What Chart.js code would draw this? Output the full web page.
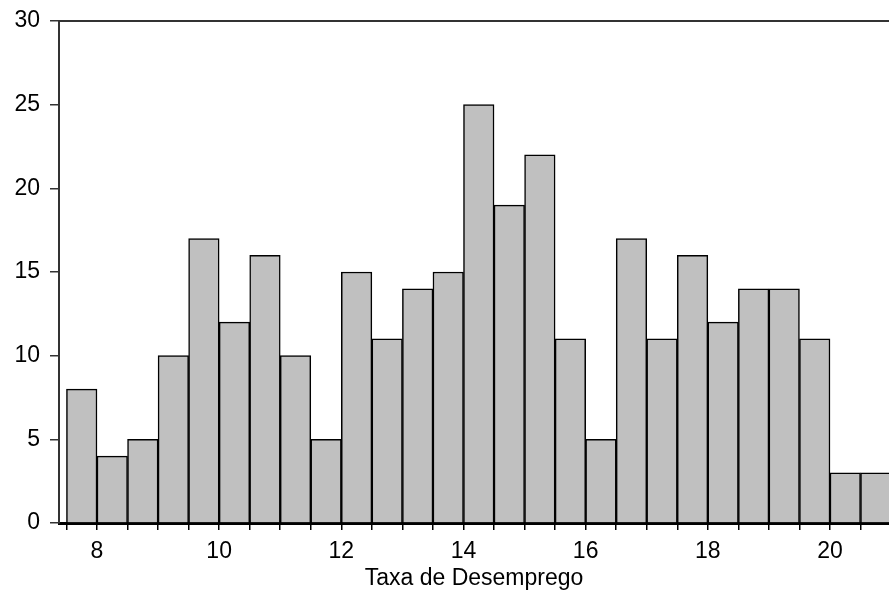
<!DOCTYPE html>
<html>
<head>
<meta charset="utf-8">
<script src="https://cdn.jsdelivr.net/npm/chart.js@4"></script>
<style>
  html, body { margin: 0; padding: 0; background: #fff; }
  #wrap { width: 889px; height: 592px; }
</style>
</head>
<body>
<div id="wrap"><canvas id="myChart" width="889" height="592"></canvas></div>
<script>
// histograma - bordas dos intervalos (largura 0.5)
const binEdges = [7.5, 8.0, 8.5, 9.0, 9.5, 10.0, 10.5, 11.0, 11.5, 12.0, 12.5, 13.0, 13.5, 14.0,
  14.5, 15.0, 15.5, 16.0, 16.5, 17.0, 17.5, 18.0, 18.5, 19.0, 19.5, 20.0, 20.5, 21.0];
const frequencias = [8, 4, 5, 10, 17, 12, 16, 10, 5, 15, 11, 14, 15, 25, 19, 22, 11, 5, 17, 11, 16, 12, 14, 14, 11, 3, 3];
const xTickLabels = [8, 10, 12, 14, 16, 18, 20];
const yTickValues = [0, 5, 10, 15, 20, 25, 30];
const tituloX = "Taxa de Desemprego";

const data_for_chart = frequencias.map((f, i) => ({
  x: (binEdges[i] + binEdges[i + 1]) / 2,
  y: f,
}));

const fonte = { family: "Arial, 'Liberation Sans', sans-serif", size: 23 };

const grafica = document.getElementById("myChart").getContext("2d");

const myChart = new Chart(grafica, {
  type: "bar",
  data: {
    datasets: [
      {
        data: data_for_chart,
        backgroundColor: "#c0c0c0",
        borderColor: "#000",
        borderWidth: 1.5,
        barPercentage: 1,
        categoryPercentage: 1,
        xAxisID: "x",
      },
    ],
  },
  options: {
    responsive: false,
    animation: false,
    layout: { padding: 0 },
    plugins: {
      legend: { display: false },
      tooltip: { enabled: false },
    },
    scales: {
      x: {
        type: "linear",
        position: "bottom",
        offset: false,
        min: 7.378,
        max: 20.966,
        afterBuildTicks: (scale) => {
          scale.ticks = binEdges.map((v) => ({ value: v }));
        },
        afterFit: (scale) => {
          scale.height = 69;
          scale.paddingLeft = 0;
          scale.paddingRight = 0;
        },
        ticks: {
          autoSkip: false,
          maxRotation: 0,
          padding: 8,
          color: "#000",
          font: fonte,
          callback: (value) => (xTickLabels.includes(value) ? String(value) : ""),
        },
        grid: {
          display: true,
          offset: false,
          drawOnChartArea: false,
          drawTicks: true,
          tickLength: 7,
          color: "#000",
          lineWidth: 1.5,
        },
        border: { display: true, color: "#000", width: 3 },
        title: {
          display: true,
          text: tituloX,
          color: "#000",
          font: { ...fonte, lineHeight: 1 },
          padding: { top: 0, bottom: 2 },
        },
      },
      x2: {
        type: "linear",
        position: "top",
        offset: false,
        min: 7.378,
        max: 20.966,
        afterFit: (scale) => {
          scale.height = 21;
          scale.paddingLeft = 0;
          scale.paddingRight = 0;
        },
        ticks: { display: false },
        grid: { display: false, drawTicks: false },
        border: { display: true, color: "#333", width: 2 },
      },
      y: {
        min: 0,
        max: 30,
        afterBuildTicks: (scale) => {
          scale.ticks = yTickValues.map((v) => ({ value: v }));
        },
        afterFit: (scale) => {
          scale.width = 59;
          scale.paddingTop = 0;
          scale.paddingBottom = 0;
        },
        ticks: {
          padding: 10,
          color: "#000",
          font: fonte,
        },
        grid: {
          display: true,
          drawOnChartArea: false,
          drawTicks: true,
          tickLength: 9,
          color: "#333",
          lineWidth: 1.5,
        },
        border: { display: true, color: "#333", width: 2 },
      },
    },
  },
});
</script>
</body>
</html>
